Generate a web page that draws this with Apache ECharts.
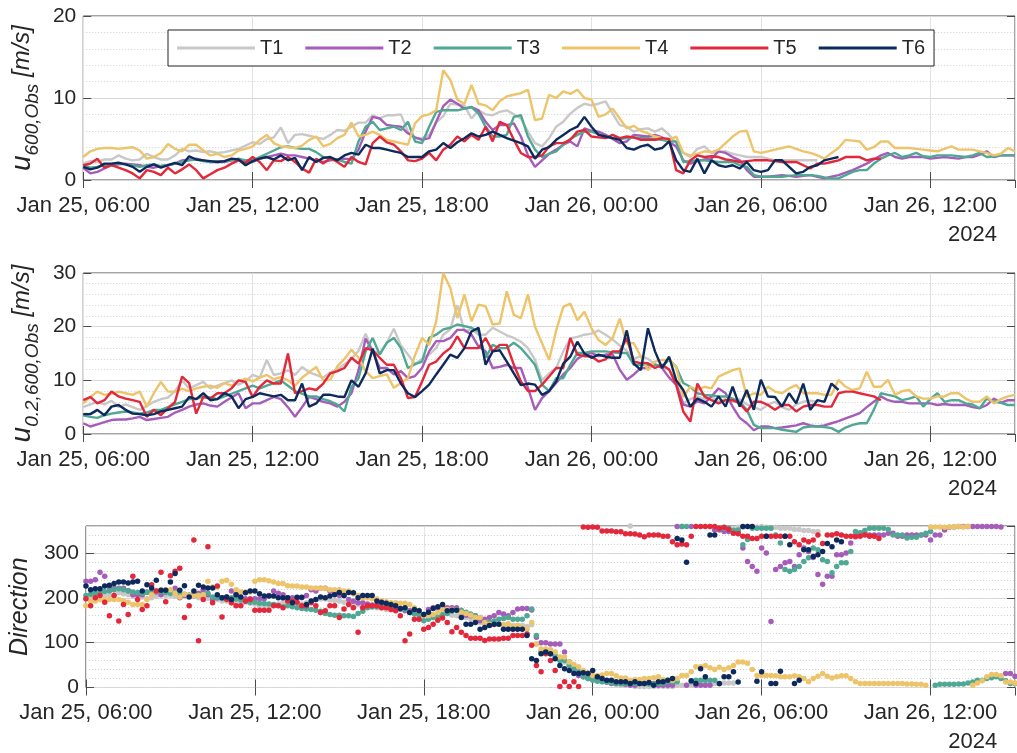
<!DOCTYPE html>
<html><head><meta charset="utf-8">
<script src="https://cdn.jsdelivr.net/npm/echarts@6/dist/echarts.min.js"></script>
<style>html,body{margin:0;padding:0;background:#fff}#c{width:1017px;height:753px}</style>
</head><body><div id="c"></div>
<script>
// time axis: hours since Jan 25 00:00; series start Jan 25 06:00
const startHour = 6;
const speedStepHours = 0.25;      // wind speed samples every 15 min
const dirStepHours = 1/6;         // direction samples every 10 min
const xMin = 6, xMax = 39, xInterval = 6;
const tickLabels = ['Jan 25, 06:00','Jan 25, 12:00','Jan 25, 18:00','Jan 26, 00:00','Jan 26, 06:00','Jan 26, 12:00'];
const yearLabel = '2024';
const seriesNames = ['T1','T2','T3','T4','T5','T6'];
const seriesColors = ['#c8c8c8','#a65cb9','#4fa893','#edc46a','#e3283b','#0e2a5c'];

// ---------- panel 1: u600,Obs [m/s] ----------
const u600_T1 = [
2.0,2.3,2.2,2.5, 2.5,3.0,2.6,2.4, 2.5,3.2,2.8,2.5, 2.5,3.0,3.8,3.5, 3.6,3.4,3.5,3.3, 3.4,3.6,3.8,4.2,
4.6,4.4,5.0,5.2, 6.4,4.5,5.5,5.6, 5.4,5.2,5.0,5.5, 6.1,6.0,6.5,7.0, 7.0,7.9,7.5,7.9, 7.9,8.0,5.9,5.1,
5.1,5.5,7.0,7.8, 9.3,9.2,9.1,7.5, 8.5,8.0,7.9,8.3, 8.5,8.0,7.5,5.9, 4.5,4.1,5.1,6.5, 7.1,8.1,8.8,9.3,
9.1,9.3,9.6,8.1, 6.7,6.5,5.9,6.2, 6.3,5.9,6.3,5.5, 4.5,3.3,2.8,3.8, 4.1,3.3,3.4,3.5, 3.2,3.0,2.8,2.8,
2.8,2.6,2.4,2.4, 2.4,2.4,2.4,2.4, 2.4];
const u600_T2 = [
1.5,0.8,1.0,1.4, 1.8,1.9,2.0,1.9, 1.8,1.6,1.5,1.7, 1.8,2.0,2.4,2.5, 2.6,2.4,2.2,2.2, 2.2,2.4,2.5,2.3,
2.2,2.6,2.8,3.0, 3.2,3.0,3.0,2.8, 2.6,2.4,2.2,2.4, 2.5,2.6,2.5,3.7, 5.9,7.7,7.5,6.7, 6.6,6.5,5.7,5.2,
4.9,5.1,7.1,9.0, 9.8,9.3,8.7,8.9, 8.5,7.1,6.1,6.7, 6.7,6.9,5.3,3.0, 1.6,2.4,3.2,3.7, 4.3,4.7,4.1,6.3,
6.0,5.9,5.5,5.0, 4.5,4.7,5.5,5.4, 5.3,5.5,5.2,4.6, 4.1,2.4,2.0,2.3, 2.5,2.6,3.5,3.3, 2.8,2.4,1.2,0.4,
0.4,0.4,0.5,0.6, 0.5,0.4,0.5,0.6, 0.4,0.2,0.4,0.6, 0.9,1.2,1.6,2.0, 2.5,3.0,3.3,2.8, 2.6,2.8,2.8,2.8,
2.6,2.7,2.8,2.7, 2.6,2.8,2.8,3.1, 3.5,2.8,3.0,3.0, 3.0];
const u600_T3 = [
1.8,1.5,1.6,1.8, 1.8,2.0,1.9,1.8, 1.6,1.8,1.9,1.7, 1.8,2.0,2.2,2.4, 2.5,2.3,2.2,2.3, 2.3,2.4,2.6,2.4,
2.4,2.8,3.2,3.6, 4.0,4.1,3.9,3.8, 3.8,3.4,2.8,2.6, 2.5,2.2,2.0,4.7, 6.5,7.1,6.1,6.3, 6.5,6.1,7.1,4.7,
4.5,6.5,8.3,8.5, 8.5,8.5,8.7,8.9, 8.1,6.5,5.3,5.3, 5.5,7.7,7.9,5.3, 3.7,2.8,3.2,3.5, 4.3,5.0,5.5,5.9,
5.9,5.6,5.3,5.1, 5.0,5.1,5.2,5.1, 5.1,5.0,4.9,4.7, 4.7,2.2,2.3,2.4, 2.4,2.3,2.2,2.2, 2.2,1.8,1.6,0.6,
0.4,0.4,0.4,0.4, 0.5,0.6,0.6,0.6, 0.5,0.3,0.2,0.2, 0.6,1.0,1.2,1.2, 2.0,2.6,3.0,3.3, 2.8,3.0,3.3,2.9,
2.8,3.0,3.0,3.0, 2.9,2.8,3.0,3.3, 2.8,2.9,3.0,3.0, 3.0];
const u600_T4 = [
2.8,3.5,3.8,3.9, 3.9,3.8,3.9,4.0, 3.6,2.6,2.8,3.3, 4.4,3.8,3.5,4.3, 4.3,3.6,3.0,3.2, 2.8,3.0,3.6,3.8,
4.1,4.9,5.5,4.5, 4.1,4.0,3.9,4.2, 4.9,5.3,4.1,4.4, 5.1,5.5,7.0,5.3, 5.5,5.9,5.5,4.9, 4.7,4.5,4.3,6.9,
7.8,8.0,8.5,13.4, 12.2,9.8,9.3,11.6, 9.3,9.1,8.5,9.6, 10.2,10.4,10.6,11.0, 7.3,7.5,10.4,10.0, 10.8,10.5,11.0,10.0,
9.8,7.7,8.0,8.7, 7.5,6.3,6.6,6.0, 5.7,5.3,5.1,4.9, 5.3,3.3,3.0,3.2, 3.5,3.4,3.7,4.5, 5.3,5.9,6.0,3.5,
3.3,3.5,3.7,3.9, 4.1,3.8,3.5,3.3, 3.0,2.6,3.3,3.9, 4.9,4.8,4.7,3.7, 4.0,4.7,4.7,3.9, 3.9,3.9,3.8,3.7,
3.6,3.5,3.8,4.1, 3.7,3.7,3.7,3.5, 3.3,3.0,3.2,3.9, 3.5];
const u600_T5 = [
1.8,2.0,2.6,1.5, 1.8,1.5,1.2,0.8, 0.2,1.2,1.0,0.6, 1.5,0.8,1.3,1.9, 1.2,0.2,0.7,1.2, 1.5,2.0,2.4,2.1,
2.8,2.2,1.2,2.4, 2.3,2.8,2.2,1.4, 0.9,2.6,2.0,2.7, 2.2,1.6,2.8,2.2, 1.9,4.5,5.3,4.6, 4.3,3.5,2.4,2.3,
2.6,3.3,2.4,3.7, 4.3,5.3,4.7,5.5, 4.9,6.5,4.7,7.1, 6.7,4.9,3.3,2.8, 2.8,3.0,4.1,4.5, 4.5,4.9,5.9,6.1,
5.3,5.2,5.1,5.5, 5.1,5.3,5.2,4.9, 4.9,4.9,5.1,5.0, 1.2,0.8,2.4,3.0, 2.8,2.9,2.8,2.5, 2.4,2.2,2.3,2.4,
2.4,2.4,2.3,2.2, 2.2,2.2,1.8,1.4, 2.0,2.0,2.2,2.4, 2.8,2.8,2.8,2.4, 2.6,2.6];
const u600_T6 = [
1.6,1.3,1.5,2.0, 2.0,2.1,1.9,1.6, 1.0,1.6,1.9,1.5, 1.8,2.1,1.8,2.9, 2.5,2.4,2.3,2.2, 2.3,2.6,2.5,1.8,
2.3,2.6,2.8,2.5, 3.0,2.4,2.7,1.2, 2.8,2.2,2.7,2.8, 2.4,3.0,3.3,3.1, 4.3,3.9,3.9,3.7, 3.5,3.3,2.8,2.8,
2.8,3.5,3.7,4.5, 3.9,4.6,5.1,5.7, 5.3,5.5,5.9,5.5, 5.1,4.8,4.5,4.1, 2.6,3.7,4.0,4.9, 5.5,6.1,6.5,7.7,
6.5,5.5,5.3,5.1, 4.9,3.9,3.7,4.1, 4.3,3.7,3.9,4.7, 2.4,1.2,1.0,2.6, 0.8,2.4,1.8,1.6, 1.8,1.4,2.2,1.2,
1.0,1.2,2.4,2.4, 1.6,0.8,1.0,1.6, 1.8,2.4,2.6,2.8];

// ---------- panel 2: u0.2,600,Obs [m/s] ----------
const u02_T1 = [
5.0,5.5,6.0,5.5, 6.2,5.0,5.5,5.0, 4.5,5.2,6.0,6.5, 6.8,8.0,10.0,8.5, 9.1,9.7,8.5,9.0, 9.5,10.0,9.2,9.8,
11.0,10.5,13.8,11.0, 11.3,11.9,11.0,12.5, 11.5,11.0,10.5,11.5, 12.0,13.0,14.0,15.5, 18.7,15.5,15.0,17.0, 19.6,16.5,14.8,13.0,
14.0,14.8,16.0,18.5, 19.5,24.0,19.1,19.5, 18.5,18.5,19.8,19.1, 18.4,17.9,17.2,16.0, 13.8,10.0,11.3,12.3, 15.4,17.8,18.1,18.5,
18.7,19.3,18.5,17.6, 16.5,15.5,14.0,14.5, 14.0,13.0,12.5,12.0, 10.0,5.7,6.5,7.0, 6.5,7.0,6.0,6.5, 6.0,6.5,5.5,5.0,
4.5,5.5,6.0,5.0, 4.5,5.5,6.0,6.2, 6.0];
const u02_T2 = [
2.0,1.4,1.8,2.2, 2.6,2.7,2.7,2.9, 3.2,2.6,2.8,3.0, 3.2,4.0,4.5,5.1, 5.5,5.7,5.3,5.1, 6.0,6.8,7.6,4.8,
5.7,5.7,6.3,6.9, 6.5,5.0,3.2,5.0, 6.9,6.5,6.0,5.7, 5.1,6.0,7.6,11.9, 17.8,15.4,12.3,12.3, 11.1,11.7,10.4,10.8,
12.3,15.4,17.3,17.3, 17.9,19.4,19.4,18.5, 16.3,15.4,12.3,12.5, 12.9,12.3,12.3,8.6, 4.5,6.7,8.0,9.5, 11.1,12.3,14.0,14.8,
15.1,14.5,14.8,14.8, 12.0,10.1,11.1,12.3, 12.3,12.9,12.3,10.5, 9.2,5.5,5.1,6.1, 5.7,7.0,8.5,7.6, 5.1,3.0,2.0,0.7,
1.4,1.4,1.1,1.2, 1.4,1.6,2.0,1.6, 1.4,1.6,2.0,2.4, 2.9,3.4,3.9,5.0, 6.0,7.0,6.3,6.0, 6.0,5.7,5.7,5.7,
5.7,5.4,5.6,5.4, 5.4,5.4,5.0,4.8, 5.4,6.6,5.8,6.3, 6.3];
const u02_T3 = [
3.5,3.2,3.0,3.5, 3.8,4.0,4.2,4.0, 3.8,4.0,4.5,4.5, 5.0,5.5,6.0,6.5, 6.5,7.0,6.8,6.5, 7.0,7.5,8.0,8.5,
9.0,8.5,9.0,9.5, 10.0,9.0,8.0,7.5, 7.0,7.0,6.5,6.1, 5.5,4.2,8.8,10.4, 15.4,17.9,14.8,17.0, 17.9,16.0,12.3,13.0,
13.5,17.9,18.5,19.5, 19.8,20.4,20.1,19.8, 19.1,14.2,16.6,16.0, 16.0,17.0,16.0,14.5, 12.9,9.2,8.0,10.4, 10.4,12.9,15.1,15.1,
15.4,15.4,15.4,15.2, 15.1,15.1,12.9,12.9, 12.9,12.9,12.6,13.8, 12.5,9.5,8.8,7.6, 7.3,7.2,7.0,7.0, 6.6,6.0,4.5,1.7,
1.1,1.1,1.1,0.8, 0.6,0.4,1.2,1.4, 1.4,1.3,1.1,0.4, 1.2,1.7,2.0,2.0, 4.5,7.6,7.3,7.0, 6.3,6.6,7.0,5.1,
6.5,7.6,6.0,6.3, 6.3,5.7,5.5,4.8, 6.6,6.0,5.8,5.4, 5.4];
const u02_T4 = [
5.7,6.9,7.9,7.3, 7.5,7.9,7.6,7.3, 7.9,5.1,7.6,9.7, 7.9,7.9,8.4,8.0, 8.5,8.8,9.0,8.6, 9.5,9.0,9.8,10.3,
9.8,10.5,11.0,10.2, 10.6,10.0,9.0,10.5, 11.5,12.5,10.0,10.1, 12.6,14.0,15.7,14.2, 11.7,10.4,10.8,11.1, 8.6,9.5,10.4,14.7,
17.9,16.6,21.0,30.0, 27.2,21.6,26.0,21.0, 24.1,23.8,20.4,20.6, 26.6,22.2,21.6,26.0, 20.0,16.9,13.8,19.3, 23.7,24.3,21.2,22.8,
19.7,17.5,16.6,17.9, 21.5,16.9,16.9,14.4, 11.9,13.5,13.8,13.8, 12.5,6.9,8.8,8.2, 8.8,8.5,10.7,11.3, 11.9,12.2,6.9,7.6,
7.3,8.8,7.9,7.6, 8.5,9.1,7.6,7.6, 7.6,7.3,7.3,10.1, 8.8,8.2,8.5,11.6, 8.8,8.8,10.1,7.3, 8.0,8.2,7.0,6.6,
6.6,7.0,7.0,7.6, 7.6,6.6,6.0,6.0, 7.0,5.7,6.5,7.0, 7.3];
const u02_T5 = [
6.3,6.9,5.7,6.3, 7.9,7.0,6.6,6.3, 6.0,3.2,4.5,3.5, 4.8,6.0,10.7,9.5, 3.8,6.9,6.6,7.6, 7.6,8.5,10.0,9.7,
6.9,8.8,10.0,9.4, 9.4,15.0,7.6,8.0, 8.5,8.2,9.4,11.3, 11.7,12.3,14.2,13.1, 16.0,15.6,14.2,12.9, 12.9,10.4,6.7,6.9,
9.8,12.9,13.5,15.0, 16.0,18.2,16.0,16.0, 16.0,17.9,15.4,16.6, 16.6,12.9,9.8,8.0, 8.0,9.2,10.7,12.3, 12.3,17.9,14.8,14.5,
14.5,13.5,13.9,15.4, 15.4,17.9,13.5,13.2, 13.2,12.3,12.9,12.0, 9.2,4.2,2.3,9.4, 7.0,6.3,5.7,6.3, 6.3,5.7,4.2,6.0,
6.0,5.4,4.5,5.4, 5.4,4.2,5.1,5.4, 5.4,5.1,5.1,7.6, 7.9,7.9,7.6,7.3, 7.0,6.3];
const u02_T6 = [
3.7,3.7,4.5,3.5, 5.1,5.4,4.5,3.8, 3.7,3.5,3.7,4.2, 4.5,4.8,5.1,6.9, 6.5,7.6,6.3,6.5, 7.6,7.0,4.8,6.5,
6.9,7.6,7.3,7.0, 7.3,6.3,6.3,9.4, 5.1,5.7,7.3,7.3, 7.0,6.9,10.0,8.8, 11.3,15.9,11.3,11.9, 11.9,9.4,7.6,6.9,
8.0,9.2,11.1,12.9, 14.8,14.2,16.0,19.1, 19.8,12.9,15.4,15.6, 13.5,11.3,9.1,9.4, 9.2,7.3,8.0,9.8, 13.1,14.4,17.2,15.0,
14.2,14.8,14.4,14.2, 14.2,19.3,13.1,11.9, 19.7,15.4,12.3,14.4, 10.0,8.2,5.1,6.6, 6.0,5.1,7.0,5.1, 8.8,5.1,8.2,4.5,
10.1,7.0,6.9,5.1, 7.6,5.7,9.4,4.5, 6.3,6.0,9.4,8.2];

// ---------- panel 3: Direction [deg], one row per hour (10-min samples) ----------
const dir_T1 = [
198,202,205,207,205,205, 206,211,209,207,205,205, 202,198,200,204,207,205, 205,203,205,207,205,203,
200,198,199,198,196,193, 193,189,188,188,190,188, 186,182,182,182,185,186, 190,188,188,185,186,189,
192,196,197,197,195,194, 193,190,188,186,185,183, 182,179,178,177,174,174, 174,174,172,171,167,165,
161,160,160,161,163,165, 161,160,158,156,153,150, 145,142,141,141,141,140, 140,138,138,138,136,140,
97,82,80,75,70,62, 57,50,45,38,30,26,
24,18,13,11,9,7, 5,5,360,2,2,2, 2,2,3,3,2,2, 5,5,5,6,8,8, 9,9,9,8,10,10, 10,357,358,359,359,358,
359,357,355,357,355,355, 355,352,352,350,350,348, 348];
const dir_T2 = [
237,237,240,257,248,224, 221,221,221,216,207,207, 207,213,213,213,207,215, 215,221,200,205,205,205,
210,217,207,196,200,200, 202,215,207,200,198,198, 198,198,198,205,215,210, 207,200,200,200,200,205,
218,215,221,221,215,210, 205,205,196,192,189,189, 186,184,184,182,182,180, 178,175,171,171,170,168,
163,174,178,178,179,178, 178,178,167,161,160,160, 149,152,156,160,167,164, 160,167,175,176,176,173,
112,100,100,97,97,97, 79,57,38,27,24,20,
20,16,16,12,9,9, 9,7,5,5,9,9, 9,9,5,5,5,5, 359,359,5,359,5,5, 5,5,351,351,348,348, 348,348,311,281,270,259,
311,300,147,263,270,278, 281,270,296,311,303,290, 252,230,248,248,296,296, 300,322,340,344,344,340,
340,340,340,344,344,337, 337,340,340,340,340,340, 329,340,340,351,357,358, 359,359,359,359,359,359,
359,359,359,358,31,31, 25];
const dir_T3 = [
205,208,210,212,214,215, 218,220,218,215,213,212, 210,212,214,215,214,212, 210,212,210,208,206,205,
205,208,210,202,200,199, 198,200,197,195,192,190, 190,188,187,186,185,183, 180,182,180,178,176,175,
174,172,170,165,163,161, 161,160,160,158,165,170, 178,180,180,180,179,178, 176,175,174,168,164,160,
149,152,156,160,163,165, 170,174,172,168,164,160, 156,145,146,148,152,154, 156,152,152,152,160,175,
116,79,79,75,71,60, 60,49,42,35,24,20,
16,14,13,12,10,9, 9,9,9,9,9,9, 8,8,9,9,13,13, 13,359,359,13,16,16, 16,16,16,355,355,355, 351,351,318,330,355,355,
355,355,355,340,322,263, 259,263,270,281,289,311, 307,285,281,256,270,278, 278,303,348,345,350,355,
355,355,355,352,340,340, 340,333,335,335,340,344, 348,5,7,7,7,7, 8,8,10,12,16,16,
20,22,24,20,15,9, 9];
const dir_T4 = [
182,193,193,196,196,196, 196,196,193,190,185,185, 185,196,207,215,218,218, 218,210,202,208,205,205,
205,207,237,224,224,237, 239,230,218,213,213,213, 237,240,240,238,235,232, 232,227,226,226,224,224,
222,222,221,221,218,218, 218,215,215,209,205,200, 200,198,197,193,191,189, 189,188,188,185,178,171,
161,160,163,167,174,174, 174,172,168,165,161,156, 156,145,141,140,141,140, 142,136,138,134,130,145,
97,86,86,84,79,68, 68,57,52,46,38,33,
27,27,28,31,31,26, 21,21,16,18,18,20, 20,22,24,18,16,16, 20,27,27,35,46,46, 49,44,40,45,40,44, 49,57,57,54,40,27,
27,27,27,26,24,24, 24,26,24,20,13,20, 25,31,25,21,24,26, 26,20,13,9,9,9,
9,9,9,9,9,9, 9,8,8,7,7,5, 358,358,358,357,358,358, 359,358,359,5,10,15,
24,29,29,26,12,12, 10];
const dir_T5 = [
198,182,200,205,190,160, 205,148,185,163,248,196, 174,182,229,215,257,191, 249,259,266,156,182,329,
104,196,314,189,226,157, 196,189,182,182,193,196, 172,172,172,172,182,182, 178,193,193,190,182,182,
189,182,167,171,182,182, 156,175,185,178,123,178, 182,182,182,178,178,174, 171,160,104,119,152,152,
130,134,141,150,155,145, 124,134,123,116,110,110, 110,105,108,108,108,110, 110,116,116,116,119,94,
49,35,75,60,38,2, 13,2,13,2,358,357,
358,357,349,349,349,347, 347,343,343,342,340,336, 340,340,340,337,337,325, 318,320,318,337,359,359,
359,359,359,355,357,352, 344,343,337,337,332,332, 337,337,337,337,337,337, 337,325,318,329,325,329,
340,321,340,340,343,340, 337,337,336,337,340,337, 337,332];
const dir_T6 = [
226,218,220,220,226,228, 232,235,235,233,235,237, 215,229,222,239,217,217, 235,254,217,227,202,215,
228,224,222,222,207,200, 202,196,207,202,211,215, 215,209,204,204,204,200, 200,200,189,201,201,185,
193,196,202,200,204,207, 212,205,212,211,200,205, 205,205,193,190,188,185, 182,176,178,167,174,171,
163,168,176,180,185,171, 172,172,156,141,141,145, 130,134,138,141,141,130, 130,130,130,130,116,64,
60,75,79,75,64,49, 42,38,31,31,33,31,
38,24,20,16,16,13, 13,13,9,13,9,9, 11,5,13,13,16,20, 332,329,279,15,9,42, 24,340,340,9,24,24, 35,12,359,359,359,14,
35,337,9,9,36,337, 318,9,16,307,307,292, 296,303,321,314,329,325];

const u600Series = [u600_T1,u600_T2,u600_T3,u600_T4,u600_T5,u600_T6];
const u02Series = [u02_T1,u02_T2,u02_T3,u02_T4,u02_T5,u02_T6];
const dirSeries = [dir_T1,dir_T2,dir_T3,dir_T4,dir_T5,dir_T6];

function toXY(arr, step){ return arr.map((v,i)=>[startHour + i*step, v]); }

const FONT = 'Liberation Sans, Arial, sans-serif';
const TXT = '#262626';
const FRAME = '#4a4a4a';

const grids = [
  {left:82, top:16, width:933, height:164},
  {left:82, top:273, width:933, height:161},
  {left:82, top:526, width:933, height:163}
];
const yCfg = [
  {min:0, max:20, major:10, minor:2, showMax:true,
   name:'{u|u}{s|600,Obs}{m| [m/s]}', gap:38},
  {min:0, max:30, major:10, minor:2, showMax:true,
   name:'{u|u}{s|0.2,600,Obs}{m| [m/s]}', gap:38},
  {min:0, max:360, major:100, minor:20, showMax:false,
   name:'{d|Direction}', gap:50}
];

function xLabel(v){
  const i = Math.round((v - xMin)/xInterval);
  if (Math.abs(v - (xMin + i*xInterval)) > 1e-6 || i < 0 || i >= tickLabels.length) return '';
  if (i === tickLabels.length - 1) return '{a|' + tickLabels[i] + '}\n{b|' + yearLabel + '}';
  return '{a|' + tickLabels[i] + '}';
}

const xAxis = [], yAxis = [];
grids.forEach((g, gi) => {
  xAxis.push({
    type:'value', gridIndex:gi, position:'bottom', min:xMin, max:xMax, interval:xInterval,
    axisLine:{show:false},
    axisTick:{show:true, inside:true, length:8, lineStyle:{color:FRAME, width:1}},
    axisLabel:{show:true, margin:11, showMaxLabel:false, formatter:xLabel,
      rich:{a:{fontSize:22, fontFamily:FONT, color:TXT, lineHeight:29},
            b:{fontSize:22, fontFamily:FONT, color:TXT, lineHeight:29, align:'right'}}},
    splitLine:{show:true, lineStyle:{color:'#e2e2e2', width:1}}
  });
  xAxis.push({
    type:'value', gridIndex:gi, position:'top', min:xMin, max:xMax, interval:xInterval,
    axisLine:{show:false},
    axisTick:{show:true, inside:true, length:8, lineStyle:{color:FRAME, width:1}},
    axisLabel:{show:false}, splitLine:{show:false}
  });
  const c = yCfg[gi];
  yAxis.push({
    type:'value', gridIndex:gi, position:'left', min:c.min, max:c.max, interval:c.major,
    name:c.name, nameLocation:'middle', nameRotate:90, nameGap:c.gap,
    nameTextStyle:{color:TXT, fontFamily:FONT, rich:{
      u:{fontSize:28, fontStyle:'italic', fontFamily:FONT, color:TXT, verticalAlign:'middle', lineHeight:40},
      s:{fontSize:19, fontStyle:'italic', fontFamily:FONT, color:TXT, verticalAlign:'bottom', lineHeight:40},
      m:{fontSize:24, fontStyle:'italic', fontFamily:FONT, color:TXT, verticalAlign:'middle', lineHeight:40},
      d:{fontSize:25, fontStyle:'italic', fontFamily:FONT, color:TXT}
    }},
    axisLine:{show:false},
    axisTick:{show:true, inside:true, length:8, lineStyle:{color:FRAME, width:1}},
    axisLabel:{show:true, margin:7, fontSize:21, fontFamily:FONT, color:TXT, showMaxLabel:c.showMax},
    splitLine:{show:true, lineStyle:{color:'#dcdcdc', width:1}}
  });
  yAxis.push({
    type:'value', gridIndex:gi, position:'right', min:c.min, max:c.max, interval:c.major,
    axisLine:{show:false},
    axisTick:{show:true, inside:true, length:8, lineStyle:{color:FRAME, width:1}},
    axisLabel:{show:false}, splitLine:{show:false}
  });
  yAxis.push({
    type:'value', gridIndex:gi, position:'left', min:c.min, max:c.max, interval:c.minor,
    axisLine:{show:false}, axisTick:{show:false}, axisLabel:{show:false},
    splitLine:{show:true, lineStyle:{color:'#cfcfcf', width:1, type:[1,2]}}
  });
});

const series = [];
seriesNames.forEach((n, k) => {
  series.push({name:n, type:'line', xAxisIndex:0, yAxisIndex:0, data:toXY(u600Series[k], speedStepHours),
    showSymbol:false, symbol:'none', color:seriesColors[k], lineStyle:{width:2.4, color:seriesColors[k]},
    z:2+k, silent:true});
});
seriesNames.forEach((n, k) => {
  series.push({name:n, type:'line', xAxisIndex:2, yAxisIndex:3, data:toXY(u02Series[k], speedStepHours),
    showSymbol:false, symbol:'none', color:seriesColors[k], lineStyle:{width:2.4, color:seriesColors[k]},
    z:2+k, silent:true});
});
seriesNames.forEach((n, k) => {
  series.push({name:n, type:'scatter', xAxisIndex:4, yAxisIndex:6, data:toXY(dirSeries[k], dirStepHours),
    symbol:'circle', symbolSize:5.5, itemStyle:{color:seriesColors[k], opacity:1},
    z:2+k, silent:true});
});

const chart = echarts.init(document.getElementById('c'), null, {renderer:'canvas'});
chart.setOption({
  animation:false,
  backgroundColor:'#ffffff',
  grid: grids.map(g => Object.assign({show:true, borderColor:FRAME, borderWidth:1, backgroundColor:'transparent'}, g)),
  legend:{
    data:seriesNames, left:168, top:30, orient:'horizontal',
    icon:'rect', itemWidth:78, itemHeight:3, itemGap:22,
    padding:[8,9,8,9], borderColor:'#222', borderWidth:1, backgroundColor:'#ffffff',
    textStyle:{fontSize:20, fontFamily:FONT, color:TXT}, selectedMode:false, z:20
  },
  xAxis, yAxis, series
});
</script>
</body></html>
